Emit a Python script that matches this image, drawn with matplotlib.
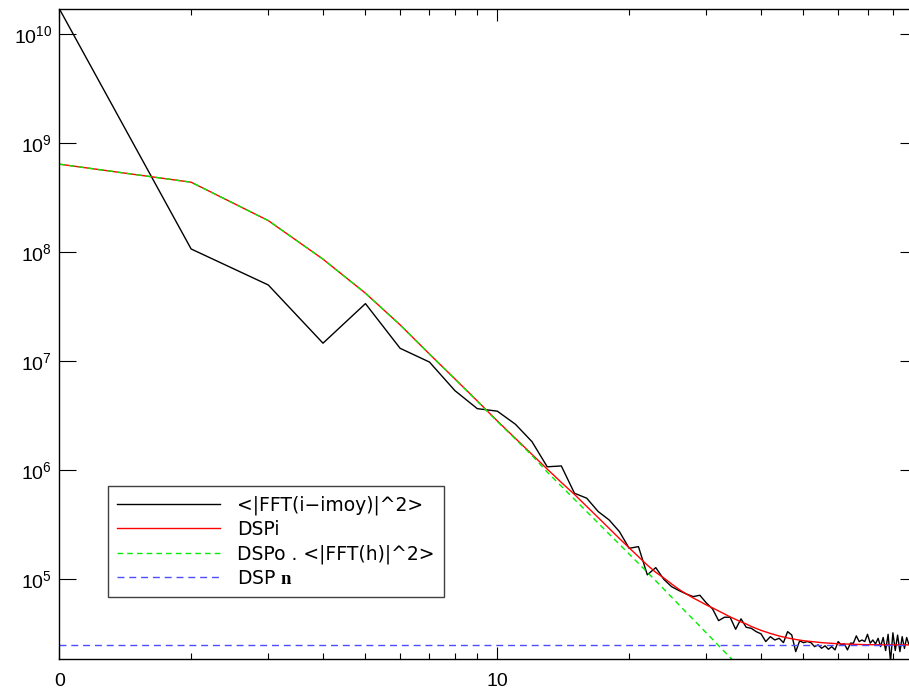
import numpy as np
import matplotlib
matplotlib.use("Agg")
import matplotlib.pyplot as plt
from matplotlib.ticker import FixedLocator, NullLocator, FixedFormatter

plt.rcParams['font.family'] = ['Liberation Sans', 'DejaVu Sans']
plt.rcParams['mathtext.fontset'] = 'custom'
plt.rcParams['mathtext.rm'] = 'Liberation Sans'
plt.rcParams['mathtext.it'] = 'Liberation Sans'
plt.rcParams['mathtext.bf'] = 'Liberation Serif:bold'

# frequency index (log axis)
freq = list(range(1, 89))

# measured spectrum <|FFT(i-imoy)|^2>
spectrum = [
    1.72e10, 1.07e8, 5.0e7, 1.46e7, 3.37e7, 1.31e7, 9.8e6, 5.36e6, 3.66e6, 3.47e6,
    2.63e6, 1.82e6, 1.07e6, 1.09e6, 6.12e5, 5.51e5, 4.15e5, 3.48e5, 2.72e5, 1.91e5,
    1.98e5, 1.09e5, 1.27e5, 9.9e4, 8.49e4, 7.81e4, 7.28e4, 6.88e4, 7.08e4, 6.02e4,
    5.31e4, 4.14e4, 4.45e4, 4.45e4, 3.45e4, 4.30e4, 3.60e4, 3.52e4, 3.28e4, 3.13e4,
    2.66e4, 2.95e4, 2.75e4, 2.85e4, 2.60e4, 3.28e4, 3.06e4, 2.15e4, 2.70e4, 2.60e4,
    2.66e4, 2.60e4, 2.39e4, 2.48e4, 2.31e4, 2.43e4, 2.26e4, 2.39e4, 2.23e4, 2.66e4,
    2.48e4, 2.53e4, 2.23e4, 2.57e4, 2.57e4, 3.00e4, 2.66e4, 2.75e4, 2.66e4, 3.10e4,
    2.57e4, 2.75e4, 2.53e4, 2.85e4, 2.39e4, 2.9e4, 2.2e4, 3.1e4, 1.75e4, 3.2e4,
    2.2e4, 3.05e4, 2.15e4, 2.95e4, 2.3e4, 2.9e4, 2.5e4, 2.7e4,
]

# DSPi model
dspi_x = list(range(1, 41)) + [42, 44, 46, 48, 50, 55, 60, 65, 70, 80, 90]
dspi = [
    6.43e8, 4.39e8, 1.95e8, 8.63e7, 4.20e7, 2.15e7, 1.16e7, 6.87e6, 4.31e6, 2.82e6,
    1.95e6, 1.39e6, 1.02e6, 7.69e5, 5.97e5, 4.63e5, 3.65e5, 2.91e5, 2.35e5, 1.93e5,
    1.60e5, 1.34e5, 1.15e5, 1.02e5, 8.99e4, 8.01e4, 7.28e4, 6.69e4, 6.21e4, 5.77e4,
    5.42e4, 5.08e4, 4.77e4, 4.48e4, 4.25e4, 4.03e4, 3.86e4, 3.66e4, 3.51e4, 3.37e4,
    3.16e4, 2.99e4, 2.87e4, 2.78e4, 2.71e4, 2.60e4, 2.54e4, 2.51e4, 2.49e4, 2.48e4,
    2.48e4,
]

# DSPo . <|FFT(h)|^2>
dspo_x = list(range(1, 37))
dspo = [
    6.43e8, 4.39e8, 1.95e8, 8.63e7, 4.20e7, 2.15e7, 1.16e7, 6.85e6, 4.28e6, 2.79e6,
    1.92e6, 1.36e6, 9.57e5, 7.10e5, 5.38e5, 4.15e5, 3.25e5, 2.58e5, 2.08e5, 1.69e5,
    1.39e5, 1.15e5, 9.61e4, 8.06e4, 6.79e4, 5.77e4, 4.93e4, 4.26e4, 3.68e4, 3.19e4,
    2.79e4, 2.44e4, 2.15e4, 1.90e4, 1.69e4, 1.50e4,
]

# noise level DSPn
dspn_x = [1, 90]
dspn = [2.48e4, 2.48e4]

labels = ['<|FFT(i\u2212imoy)|^2>', 'DSPi', 'DSPo . <|FFT(h)|^2>',
          r'DSP $\mathbf{n}$']

fig = plt.figure(figsize=(9.09, 6.95), dpi=100)
ax = fig.add_axes([0.0652, 0.0518, 0.9436, 0.9357])

ax.plot(freq, spectrum, color='black', lw=1.0, label=labels[0])
ax.plot(dspi_x, dspi, color='red', lw=1.0, label=labels[1])
ax.plot(dspo_x, dspo, color='#00ee00', lw=1.0, ls=(0, (4, 3)), label=labels[2])
ax.plot(dspn_x, dspn, color='#4d4dff', lw=1.0, ls=(0, (5, 3.5)), label=labels[3])

ax.set_xscale('log')
ax.set_yscale('log')
ax.set_xlim(1, 90.8)
ax.set_ylim(1.84e4, 1.72e10)

ax.xaxis.set_major_locator(FixedLocator([1, 10]))
ax.xaxis.set_major_formatter(FixedFormatter(['0', '10']))
ax.xaxis.set_minor_locator(FixedLocator([2, 3, 4, 5, 6, 7, 8, 9,
                                         20, 30, 40, 50, 60, 70, 80, 90]))
ax.xaxis.set_minor_formatter(FixedFormatter([''] * 16))
ax.yaxis.set_major_locator(FixedLocator([1e5, 1e6, 1e7, 1e8, 1e9, 1e10]))
ax.yaxis.set_major_formatter(FixedFormatter(
    [r'$10^{5}$', r'$10^{6}$', r'$10^{7}$', r'$10^{8}$', r'$10^{9}$', r'$10^{10}$']))
ax.yaxis.set_minor_locator(NullLocator())

ax.tick_params(axis='both', which='both', direction='in', top=True, right=True,
               width=0.8, labelsize=14)
ax.tick_params(axis='x', which='major', length=8.5, pad=10)
ax.tick_params(axis='x', which='minor', length=4.3)
ax.tick_params(axis='y', which='major', length=12, pad=5)
for s in ax.spines.values():
    s.set_linewidth(1.0)

leg = ax.legend(loc='upper left', bbox_to_anchor=(0.0568, 0.2665),
                borderaxespad=0, prop={'family': 'DejaVu Sans', 'size': 13.5},
                handlelength=5.5, handletextpad=0.9, labelspacing=0.28,
                borderpad=0.5, fancybox=False, framealpha=1, edgecolor='#404040')
leg.get_frame().set_linewidth(1.0)

fig.savefig('out.png', dpi=100)
